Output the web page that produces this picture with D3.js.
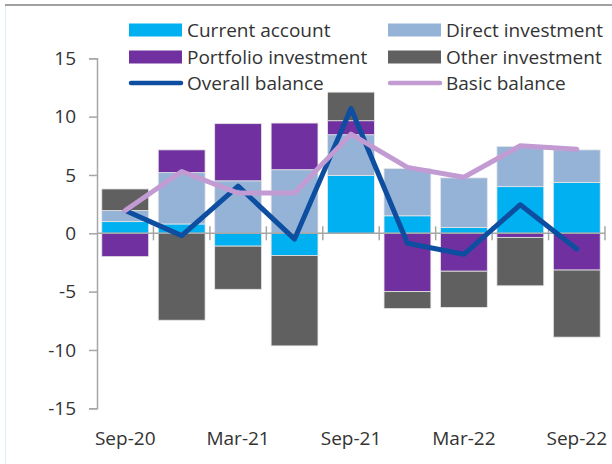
<!doctype html>
<html>
<head>
<meta charset="utf-8">
<script src="https://d3js.org/d3.v7.min.js"></script>
<style>
  body { margin: 0; background: white; }
  text { font-family: "Open Sans", sans-serif; fill: #333333; }
</style>
</head>
<body>
<svg id="chart" width="612" height="464"></svg>
<script>
// quarters shown on the x axis
var quarters = ["Sep-20","Dec-20","Mar-21","Jun-21","Sep-21","Dec-21","Mar-22","Jun-22","Sep-22"]
var tickQuarters = ["Sep-20","Mar-21","Sep-21","Mar-22","Sep-22"]
var yTicks = [-15,-10,-5,0,5,10,15]

// stacked components
var currentAccount = [1.0, 0.8, -1.1, -1.9, 4.95, 1.5, 0.5, 4.0, 4.35]
var directInvestment = [0.95, 4.4, 4.5, 5.45, 3.5, 4.05, 4.25, 3.45, 2.8]
var portfolioInvestment = [-2.0, 1.95, 4.9, 4.0, 1.2, -5.0, -3.25, -0.35, -3.15]
var otherInvestment = [1.85, -7.45, -3.7, -7.75, 2.45, -1.45, -3.1, -4.15, -5.75]

// lines
var overallBalance = [1.95, -0.2, 4.05, -0.5, 10.7, -0.85, -1.8, 2.45, -1.35]
var basicBalance = [1.95, 5.3, 3.45, 3.45, 8.5, 5.65, 4.8, 7.5, 7.2]

var keys = ["ca","di","pi","oi"]
var names = {ca:"Current account", di:"Direct investment", pi:"Portfolio investment", oi:"Other investment"}
var colors = {ca:"#00b0f0", di:"#95b3d7", pi:"#7030a0", oi:"#606060"}
var overallColor = "#0d4ea0", basicColor = "#c39bd3"

var rows = quarters.map(function(q, i) {
    return {q:q, ca:currentAccount[i], di:directInvestment[i], pi:portfolioInvestment[i], oi:otherInvestment[i]}
})

var svg = d3.select("#chart")

// frame lines
svg.append("line").attr("x1",5).attr("x2",612).attr("y1",5).attr("y2",5).attr("stroke","#808080").attr("stroke-width",1.5)
svg.append("line").attr("x1",5.5).attr("x2",5.5).attr("y1",6).attr("y2",464).attr("stroke","#deeef8").attr("stroke-width",1)

var x = d3.scaleBand().domain(quarters).range([97,605]).paddingInner(0.17).paddingOuter(0.085)
var y = d3.scaleLinear().domain([-15,15]).range([408.3,58.3])

var series = d3.stack().keys(keys).offset(d3.stackOffsetDiverging)(rows)

svg.append("g").selectAll("g").data(series).join("g")
    .attr("fill", function(d) { return colors[d.key] })
    .selectAll("rect").data(function(d) { return d }).join("rect")
    .attr("x", function(d) { return x(d.data.q) })
    .attr("width", x.bandwidth())
    .attr("y", function(d) { return y(d[1]) })
    .attr("height", function(d) { return y(d[0]) - y(d[1]) })
    .attr("stroke", "#e6e6e6").attr("stroke-width", 0.8)

// y axis
var yAxis = svg.append("g").attr("transform","translate(97,0)")
    .call(d3.axisLeft(y).tickValues(yTicks).tickFormat(function(d) { return String(d) })
        .tickSize(8).tickPadding(13).tickSizeOuter(8))
yAxis.select(".domain").attr("stroke","#a6a6a6").attr("stroke-width",1.5)
yAxis.selectAll(".tick line").attr("stroke","#a6a6a6").attr("stroke-width",1.5)
yAxis.selectAll("text").style("font-size","19px").attr("fill","#333333")

// x axis line at zero with crossing ticks at band edges
var xg = svg.append("g")
xg.append("line").attr("x1",97).attr("x2",605).attr("y1",y(0)).attr("y2",y(0))
    .attr("stroke","#a6a6a6").attr("stroke-width",1.5)
var edges = quarters.map(function(q) { return x(q) - x.step()*x.paddingInner()/2 })
edges.push(x(quarters[quarters.length-1]) + x.bandwidth() + x.step()*x.paddingInner()/2)
xg.selectAll(".edge").data(edges.slice(1)).join("line")
    .attr("x1", function(d) { return d }).attr("x2", function(d) { return d })
    .attr("y1", y(0) - 7).attr("y2", y(0) + 7)
    .attr("stroke","#a6a6a6").attr("stroke-width",1.5)

svg.append("g").selectAll("text").data(tickQuarters).join("text")
    .attr("x", function(d) { return x(d) + x.bandwidth()/2 })
    .attr("y", 445)
    .attr("text-anchor","middle")
    .style("font-size","19px")
    .text(function(d) { return d })

// lines
var line = d3.line()
    .x(function(d, i) { return x(quarters[i]) + x.bandwidth()/2 })
    .y(function(d) { return y(d) })

svg.append("path").datum(overallBalance).attr("d", line)
    .attr("fill","none").attr("stroke",overallColor).attr("stroke-width",5)
    .attr("stroke-linejoin","round").attr("stroke-linecap","round")
svg.append("path").datum(basicBalance).attr("d", line)
    .attr("fill","none").attr("stroke",basicColor).attr("stroke-width",5)
    .attr("stroke-linejoin","round").attr("stroke-linecap","round")

// legend
var legend = [
    {label:names.ca, color:colors.ca, type:"rect", col:0, row:0},
    {label:names.di, color:colors.di, type:"rect", col:1, row:0},
    {label:names.pi, color:colors.pi, type:"rect", col:0, row:1},
    {label:names.oi, color:colors.oi, type:"rect", col:1, row:1},
    {label:"Overall balance", color:overallColor, type:"line", col:0, row:2},
    {label:"Basic balance", color:basicColor, type:"line", col:1, row:2}
]
var colX = [129, 388], rowY = [30, 57, 83]
var lg = svg.append("g").selectAll("g").data(legend).join("g")
    .attr("transform", function(d) { return "translate(" + colX[d.col] + "," + rowY[d.row] + ")" })
lg.filter(function(d) { return d.type == "rect" }).append("rect")
    .attr("x",0).attr("y",-6.5).attr("width",53).attr("height",13).attr("fill", function(d) { return d.color })
lg.filter(function(d) { return d.type == "line" }).append("line")
    .attr("x1",2).attr("x2",52).attr("y1",0).attr("y2",0)
    .attr("stroke", function(d) { return d.color }).attr("stroke-width",4.5).attr("stroke-linecap","round")
lg.append("text").attr("x",58).attr("y",0).attr("dy","0.35em")
    .style("font-size","19px").text(function(d) { return d.label })
</script>
</body>
</html>
